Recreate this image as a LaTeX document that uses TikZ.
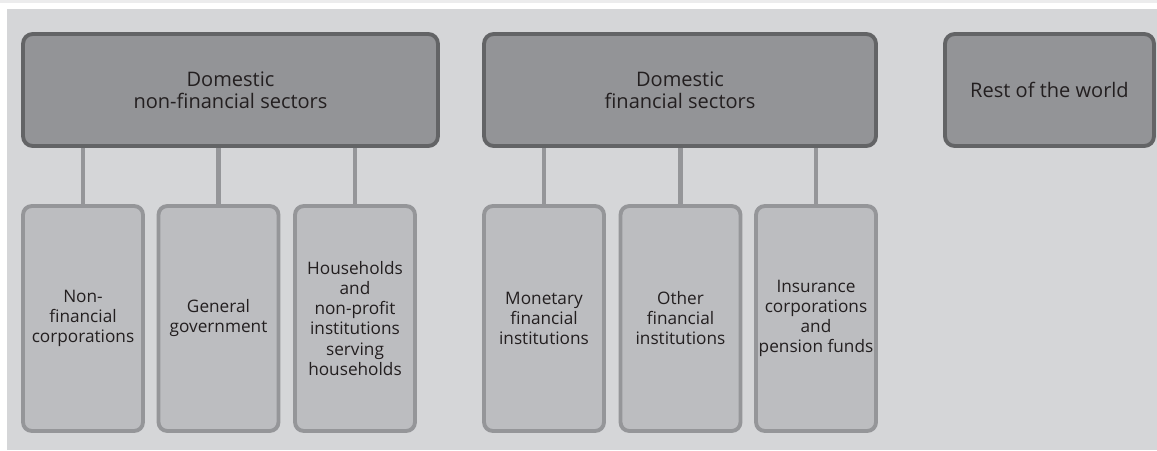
\documentclass[tikz,border=0pt]{standalone}
\usepackage{fontspec}
\setmainfont{Open Sans}
\usetikzlibrary{positioning}
\definecolor{panelgray}{HTML}{D5D6D8}
\definecolor{stripgray}{HTML}{ECECED}
\definecolor{sectorfill}{HTML}{939497}
\definecolor{sectorline}{HTML}{636466}
\definecolor{subfill}{HTML}{BCBDC0}
\definecolor{subline}{HTML}{959699}
\definecolor{textdark}{HTML}{231F20}
\begin{document}
\begin{tikzpicture}[x=0.02cm, y=-0.02cm, every node/.style={align=center, text=textdark}]
        \tikzstyle{sector}=[rectangle, draw=sectorline, line width=2.2pt, rounded corners=5.5pt, fill=sectorfill, minimum height=2.24cm, inner sep=2pt, font=\fontsize{11.4}{12.4}\selectfont];
        \tikzstyle{subsector}=[rectangle, draw=subline, line width=2.2pt, rounded corners=5pt, fill=subfill, minimum width=2.4cm, minimum height=4.5cm, inner sep=1pt, font=\fontsize{9.8}{11.4}\selectfont];
        \tikzstyle{link}=[draw=subline, line width=2.4pt];
        % background
        \useasboundingbox (0,0) rectangle (1157,450);
        \fill[white] (0,0) rectangle (1157,450);
        \fill[stripgray] (0,0) rectangle (1157,3);
        \fill[panelgray] (7,9) rectangle (1157,450);
        % sectors
        \node[sector, minimum width=8.3cm] (nonfin) at (230.5,90) {Domestic\\non-financial sectors};
        \node[sector, minimum width=7.84cm] (fin) at (680,90) {Domestic\\financial sectors};
        \node[sector, minimum width=4.18cm] (row) at (1049.5,90) {Rest of the world};
        % subsectors
        \node[subsector] (nfc) at (83,318.5) {Non-\\financial\\corporations};
        \node[subsector] (gov) at (218.5,318.5) {General\\government};
        \node[subsector] (hh) at (355,318.5) {Households\\and\\non-profit\\institutions\\serving\\households};
        \node[subsector] (mfi) at (544,318.5) {Monetary\\financial\\institutions};
        \node[subsector] (ofi) at (680.5,318.5) {Other\\financial\\institutions};
        \node[subsector] (icpf) at (816,318.5) {Insurance\\corporations\\and\\pension funds};
        % links
        \foreach \s in {nfc,gov,hh} \draw[link] (\s.north) -- (\s.north |- nonfin.south);
        \foreach \s in {mfi,ofi,icpf} \draw[link] (\s.north) -- (\s.north |- fin.south);
    \end{tikzpicture}
\end{document}
